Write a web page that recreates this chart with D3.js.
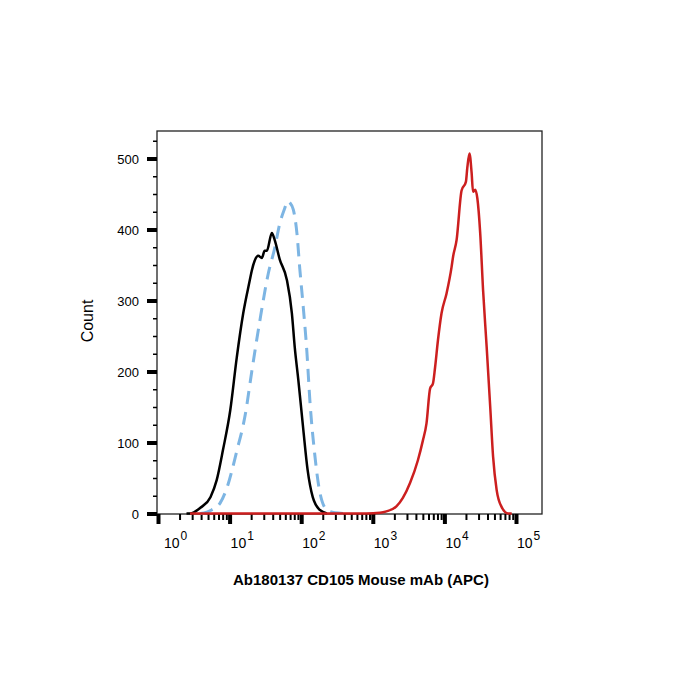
<!DOCTYPE html>
<html>
<head>
<meta charset="utf-8">
<script src="https://cdn.jsdelivr.net/npm/d3@7"></script>
<style>
  body { margin: 0; background: #fff; }
  svg { display: block; }
  text { font-family: Arial, "Liberation Sans", sans-serif; fill: #000; }
</style>
</head>
<body>
<svg id="chart"></svg>
<script>
// Unstained control (black, solid)
const controlX = [2.5, 2.8, 3.9, 5.4, 6.6, 8.1, 10.2, 12.6, 15.5, 19.1, 20.4, 22.4, 25.1, 28.2,
  30.9, 33.1, 38.9, 42.7, 50.1, 63.1, 74.1, 81.3, 91.2, 107, 123, 145, 182, 229];
const controlCount = [0, 0, 8, 23, 47, 90, 145, 220, 282, 328, 342, 356, 363, 360,
  370, 370, 395, 385, 358, 329, 282, 234, 188, 118, 61, 23, 5, 0];

// Isotype control (light blue, dashed)
const isotypeX = [3.9, 4.8, 5.6, 7.4, 9.1, 12.6, 16.6, 20.4, 26.3, 34.7, 42.7, 50.1, 58.9,
  64.6, 69.2, 77.6, 87.1, 95.5, 107, 120, 132, 155, 182, 229, 295, 407];
const isotypeCount = [0, 2, 5, 15, 35, 88, 140, 200, 270, 338, 374, 408, 430,
  440, 438, 428, 395, 345, 290, 228, 160, 82, 30, 5, 1, 0];

// Ab180137 CD105 stained (red)
const stainedX = [2.8, 813, 1259, 1549, 2138, 2630, 3311, 4266, 5012, 5623, 6310, 6918, 7413,
  8128, 9120, 10715, 12589, 13183, 14791, 17378, 19953, 20893, 22387, 23988, 25119, 26915,
  28840, 31623, 34674, 38905, 43652, 47863, 53703, 63096, 77625, 87096];
const stainedCount = [0, 0, 1, 3, 10, 22, 43, 75, 103, 127, 176, 183, 206,
  244, 282, 310, 347, 361, 385, 455, 467, 487, 507, 480, 453, 456,
  444, 395, 315, 235, 150, 80, 33, 9, 0, 0];

const yTicks = [0, 100, 200, 300, 400, 500];
const xExponents = [0, 1, 2, 3, 4, 5];
const xTitle = 'Ab180137 CD105 Mouse mAb (APC)';
const yTitle = 'Count';

const width = 700, height = 700;
const box = { left: 157, right: 542, top: 131, bottom: 514 };

const svg = d3.select('#chart').attr('width', width).attr('height', height);

const x = d3.scaleLog().domain([1, 1e5]).range([158, 516]);
const y = d3.scaleLinear().domain([0, 500]).range([513.5, 158.5]);

// frame
svg.append('rect')
  .attr('x', box.left).attr('y', box.top)
  .attr('width', box.right - box.left).attr('height', box.bottom - box.top)
  .attr('fill', 'none').attr('stroke', '#222').attr('stroke-width', 1.3);

// x ticks
const xMajor = xExponents.map(e => Math.pow(10, e));
const xMinor = [];
xExponents.slice(0, -1).forEach(e => {
  for (let k = 2; k <= 9; k++) xMinor.push(k * Math.pow(10, e));
});

const xAxisMinor = d3.axisBottom(x).tickValues(xMinor).tickSize(6).tickFormat('');
const xAxisMajor = d3.axisBottom(x).tickValues(xMajor).tickSize(10).tickFormat('');

svg.append('g').attr('transform', `translate(0,${box.bottom})`).call(xAxisMinor)
  .call(g => g.select('.domain').remove())
  .selectAll('line').attr('stroke', '#000').attr('stroke-width', 2);
svg.append('g').attr('transform', `translate(0,${box.bottom})`).call(xAxisMajor)
  .call(g => g.select('.domain').remove())
  .selectAll('line').attr('stroke', '#000').attr('stroke-width', 4);

// x tick labels 10^n
const xLab = svg.append('g');
xExponents.forEach((e, i) => {
  const t = xLab.append('text')
    .attr('x', x(Math.pow(10, e)) + (i === 0 ? 6 : 1))
    .attr('y', 548)
    .attr('font-size', 14);
  t.append('tspan').text('10');
  t.append('tspan').attr('dx', 1).attr('dy', -8).attr('font-size', 12).text(e);
});

// y ticks
const yMinor = d3.range(25, 526, 25).filter(v => v % 100 !== 0);
const yAxisMinor = d3.axisLeft(y).tickValues(yMinor).tickSize(4).tickFormat('');
const yAxisMajor = d3.axisLeft(y).tickValues(yTicks).tickSize(10).tickFormat('');

svg.append('g').attr('transform', `translate(${box.left},0)`).call(yAxisMinor)
  .call(g => g.select('.domain').remove())
  .selectAll('line').attr('stroke', '#000').attr('stroke-width', 1.5);
svg.append('g').attr('transform', `translate(${box.left},0)`).call(yAxisMajor)
  .call(g => g.select('.domain').remove())
  .selectAll('line').attr('stroke', '#000').attr('stroke-width', 4);

svg.append('g').selectAll('text').data(yTicks).enter().append('text')
  .attr('x', 139)
  .attr('y', d => y(d) + 5)
  .attr('text-anchor', 'end')
  .attr('font-size', 13)
  .text(d => d);

// curves
const line = d3.line()
  .x(d => x(d[0]))
  .y(d => y(d[1]))
  .curve(d3.curveMonotoneX);

const zip = (a, b) => a.map((v, i) => [v, b[i]]);

svg.append('path')
  .datum(zip(isotypeX, isotypeCount))
  .attr('d', line)
  .attr('fill', 'none')
  .attr('stroke', '#7db5e3')
  .attr('stroke-width', 3)
  .attr('stroke-dasharray', '13,8');

svg.append('path')
  .datum(zip(controlX, controlCount))
  .attr('d', line)
  .attr('fill', 'none')
  .attr('stroke', '#000')
  .attr('stroke-width', 2.5)
  .attr('stroke-linejoin', 'round');

svg.append('path')
  .datum(zip(stainedX, stainedCount))
  .attr('d', line)
  .attr('fill', 'none')
  .attr('stroke', '#cc1f1f')
  .attr('stroke-width', 2.5)
  .attr('stroke-linejoin', 'round');

// titles
svg.append('text')
  .attr('x', 361).attr('y', 585)
  .attr('text-anchor', 'middle')
  .attr('font-size', 15)
  .attr('font-weight', 'bold')
  .text(xTitle);

svg.append('text')
  .attr('transform', 'translate(93,321) rotate(-90)')
  .attr('text-anchor', 'middle')
  .attr('font-size', 16)
  .text(yTitle);
</script>
</body>
</html>
